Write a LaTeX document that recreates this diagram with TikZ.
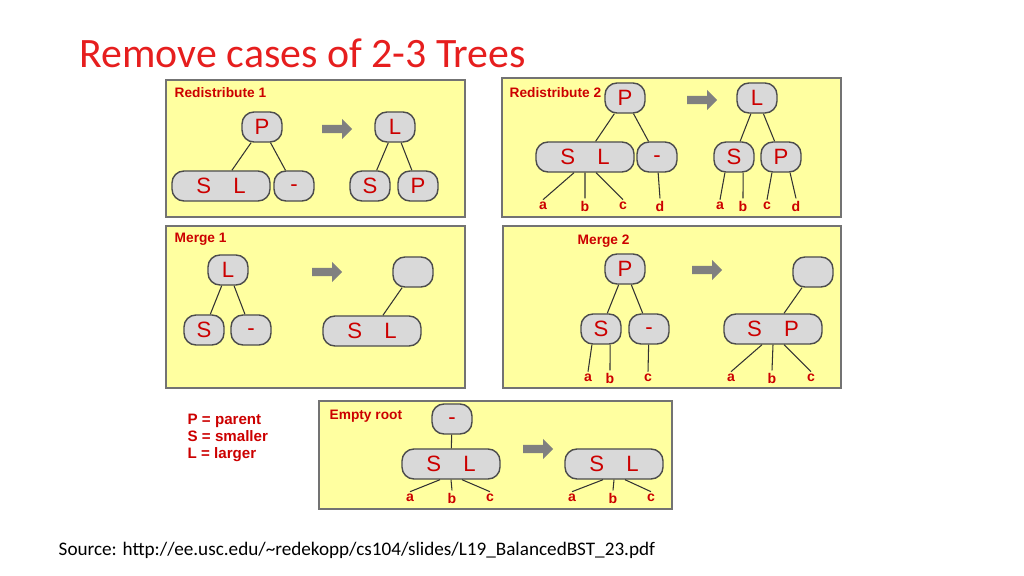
\documentclass[tikz,border=0pt]{standalone}
\usepackage{fontspec}
\setmainfont{Liberation Sans}
\newfontfamily\titlefont{Carlito}
\usetikzlibrary{shapes.arrows}
\definecolor{panelyel}{RGB}{255,255,160}
\definecolor{keygray}{RGB}{217,217,217}
\definecolor{keyred}{RGB}{204,0,0}
\definecolor{titlered}{RGB}{230,30,30}
\newcommand{\dashkey}{\raisebox{-0.9ex}{-}}
\tikzset{
  panel/.style={draw=black!55, fill=panelyel},
  key/.style={draw=black!70, fill=keygray, rounded corners=0.12cm, minimum width=0.4cm,
    minimum height=0.3cm, inner sep=0pt, text=keyred, font=\fontsize{6.3}{7}\selectfont},
  wide/.style={key, minimum width=0.98cm},
  leaf/.style={text=keyred, font=\fontsize{4}{5}\selectfont\bfseries, inner sep=0.5pt},
  caption/.style={text=keyred, font=\fontsize{3.9}{5}\selectfont\bfseries, anchor=west, inner sep=0pt},
  go/.style={single arrow, fill=black!50, draw=none, minimum height=0.3cm, minimum width=0.2cm,
    single arrow head extend=0.04cm, inner sep=0.02cm},
  edge/.style={draw=black!80, line width=0.3pt}
}
\begin{document}
\begin{tikzpicture}[x=0.01cm, y=-0.01cm]
\useasboundingbox (0,0) rectangle (1024,576);

\node[anchor=west, text=titlered, font=\titlefont\fontsize{11.9}{13}\selectfont, inner sep=0pt] (title) at (79,53) {Remove cases of 2-3 Trees};

% Redistribute 1
\draw[panel] (166,80) rectangle (465,217);
\node[caption] (capa) at (174,93) {Redistribute 1};
\node[key] (ap) at (262,127) {P};
\node[go] (aarr) at (335,129) {};
\node[key] (al) at (395,127) {L};
\node[wide] (asl) at (221,186) {S\quad L};
\node[key] (ad) at (294,186) {\dashkey};
\node[key] (as) at (370,186) {S};
\node[key] (ap2) at (418,186) {P};
\draw[edge] (ap) -- (asl) (ap) -- (ad) (al) -- (as) (al) -- (ap2);

% Redistribute 2
\draw[panel] (502,78) rectangle (841,217);
\node[caption] (capb) at (509,93) {Redistribute 2};
\node[key] (bp) at (625,98) {P};
\node[go] (barr) at (700,100) {};
\node[key] (bl) at (757,98) {L};
\node[wide] (bsl) at (585,157) {S\quad L};
\node[key] (bd) at (657,157) {\dashkey};
\node[key] (bs) at (734,157) {S};
\node[key] (bp2) at (781,157) {P};
\draw[edge] (bp) -- (bsl) (bp) -- (bd) (bl) -- (bs) (bl) -- (bp2);
\node[leaf] (ba) at (543,206) {a};
\node[leaf] (bb) at (585,206) {b};
\node[leaf] (bc) at (623,206) {c};
\node[leaf] (bdd) at (660,206) {d};
\node[leaf] (ba2) at (720,206) {a};
\node[leaf] (bb2) at (743,206) {b};
\node[leaf] (bc2) at (767,206) {c};
\node[leaf] (bd2) at (796,206) {d};
\draw[edge] (bsl.235) -- (ba.north) (bsl.south) -- (bb.north) (bsl.305) -- (bc.north) (bd) -- (bdd.north)
  (bs.240) -- (ba2.north) (bs.300) -- (bb2.north) (bp2.240) -- (bc2.north) (bp2.300) -- (bd2.north);

% Merge 1
\draw[panel] (166,226) rectangle (465,388);
\node[caption] (capc) at (174,239) {Merge 1};
\node[key] (cl) at (228,270) {L};
\node[key] (cs) at (204,330) {S};
\node[key] (cd) at (251,330) {\dashkey};
\node[go] (carr) at (325,272) {};
\node[key] (ce) at (413,272) {};
\node[wide] (csl) at (372,331) {S\quad L};
\draw[edge] (cl) -- (cs) (cl) -- (cd) (ce) -- (csl);

% Merge 2
\draw[panel] (503,226) rectangle (841,388);
\node[caption] (capd) at (577,241) {Merge 2};
\node[key] (dp) at (625,269) {P};
\node[key] (ds) at (601,329) {S};
\node[key] (dd) at (649,329) {\dashkey};
\node[go] (darr) at (705,270) {};
\node[key] (de) at (813,272) {};
\node[wide] (dsp) at (773,329) {S\quad P};
\draw[edge] (dp) -- (ds) (dp) -- (dd) (de) -- (dsp);
\node[leaf] (da) at (588,378) {a};
\node[leaf] (db) at (610,378) {b};
\node[leaf] (dc) at (648,378) {c};
\node[leaf] (da2) at (731,378) {a};
\node[leaf] (db2) at (772,378) {b};
\node[leaf] (dc2) at (811,378) {c};
\draw[edge] (ds.240) -- (da.north) (ds.300) -- (db.north) (dd) -- (dc.north)
  (dsp.235) -- (da2.north) (dsp.south) -- (db2.north) (dsp.305) -- (dc2.north);

% legend
\node[anchor=north west, text=keyred, font=\fontsize{4.3}{4.85}\selectfont\bfseries, align=left, inner sep=0pt]
  (legend) at (187,413) {P = parent\\S = smaller\\L = larger};

% Empty root
\draw[panel] (319,401) rectangle (672,509);
\node[caption] (cape) at (329,416) {Empty root};
\node[key] (er) at (452,419) {\dashkey};
\node[wide] (esl) at (451,464) {S\quad L};
\node[go] (earr) at (536,449) {};
\node[wide] (esl2) at (614,464) {S\quad L};
\draw[edge] (er) -- (esl);
\node[leaf] (ea) at (410,498) {a};
\node[leaf] (eb) at (452,498) {b};
\node[leaf] (ec) at (490,498) {c};
\node[leaf] (ea2) at (572,498) {a};
\node[leaf] (eb2) at (613,498) {b};
\node[leaf] (ec2) at (651,498) {c};
\draw[edge] (esl.235) -- (ea.north) (esl.south) -- (eb.north) (esl.305) -- (ec.north)
  (esl2.235) -- (ea2.north) (esl2.south) -- (eb2.north) (esl2.305) -- (ec2.north);

\node[anchor=west, font=\titlefont\fontsize{5.45}{6}\selectfont, inner sep=0pt] (source) at (58,550)
  {Source: http://ee.usc.edu/\textasciitilde redekopp/cs104/slides/L19\_BalancedBST\_23.pdf};
\end{tikzpicture}
\end{document}
